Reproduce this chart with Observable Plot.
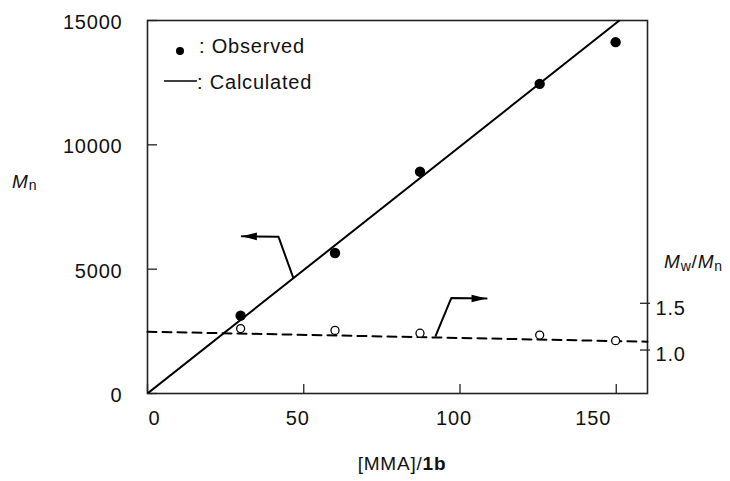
<!DOCTYPE html>
<html><head><meta charset="utf-8">
<script src="https://cdn.jsdelivr.net/npm/d3@7"></script>
<script src="https://cdn.jsdelivr.net/npm/@observablehq/plot@0.6"></script>
<style>
body{margin:0;background:#fff;}
svg text{font-family:"Liberation Sans",Arial,sans-serif;letter-spacing:0.8px;}
</style></head><body><div id="chart"></div>
<script>
// ---- data ----
const mmaRatio = [29.8, 60.0, 87.2, 125.5, 149.8];
const mnObserved = [3130, 5650, 8920, 12450, 14130];
const mwmnObserved = [1.23, 1.21, 1.18, 1.16, 1.10];
const calcRatio = [0, 151];
const calcMn = [0, 15000];
const mwmnFitRatio = [0, 160];
const mwmnFit = [1.196, 1.089];
const xTicks = [0, 50, 100, 150];
const yTicks = [0, 5000, 10000, 15000];
const y2Ticks = [1.0, 1.5];
const arrowLeftX = [46.6, 41.9, 30.2];
const arrowLeftMn = [4669, 6306, 6319];
const arrowRightX = [92.2, 97.2, 108.5];
const arrowRightMn = [2322, 3840, 3823];
const xDomain = [0, 160], yDomain = [0, 15000], y2Domain = [0.535, 4.525];

// ---- helpers ----
const W = 730, H = 481, mL = 147, mR = 83, mT = 20, mB = 88;
const innerW = W - mL - mR, innerH = H - mT - mB;
const r2y = r => yDomain[0] + (r - y2Domain[0]) / (y2Domain[1] - y2Domain[0]) * (yDomain[1] - yDomain[0]);
const y2r = v => y2Domain[0] + (v - yDomain[0]) / (yDomain[1] - yDomain[0]) * (y2Domain[1] - y2Domain[0]);
const obs = mmaRatio.map((x, i) => ({x, mn: mnObserved[i], r: mwmnObserved[i]}));
const calc = calcRatio.map((x, i) => ({x, y: calcMn[i]}));
const fit = mwmnFitRatio.map((x, i) => ({x, r: mwmnFit[i]}));
const arrL = arrowLeftX.map((x, i) => ({x, y: arrowLeftMn[i]}));
const arrR = arrowRightX.map((x, i) => ({x, y: arrowRightMn[i]}));
const headLeft = {draw(c){ c.moveTo(0,0); c.lineTo(15,-3.8); c.lineTo(15,3.8); c.closePath(); }};
const headRight = {draw(c){ c.moveTo(0,0); c.lineTo(-15,-3.8); c.lineTo(-15,3.8); c.closePath(); }};
const xLabelShift = {0: 7, 50: -6, 100: -6, 150: -23};

const plot = Plot.plot({
  width: W, height: H,
  marginLeft: mL, marginRight: mR, marginTop: mT, marginBottom: mB,
  x: {domain: xDomain, axis: null},
  y: {domain: yDomain, axis: null},
  style: {fontFamily: "Liberation Sans, Arial, sans-serif", fontSize: "20px", color: "#111", background: "white", overflow: "visible"},
  marks: [
    Plot.frame({stroke: "#222", strokeWidth: 1.6}),
    // inward tick marks
    Plot.tickX(xTicks, {x: d => d, insetTop: innerH - 9, stroke: "#222", strokeWidth: 1.3}),
    Plot.tickY(yTicks, {y: d => d, insetRight: innerW - 10, stroke: "#222", strokeWidth: 1.3}),
    Plot.tickY(y2Ticks.map(r2y), {y: d => d, insetLeft: innerW - 7, insetRight: -3, stroke: "#222", strokeWidth: 1.3}),
    // tick labels
    ...xTicks.map(v => Plot.axisX([v], {tickSize: 0, tickPadding: 17, dx: xLabelShift[v], fontSize: 20, label: null, tickFormat: d => String(d)})),
    Plot.axisY(yTicks, {tickSize: 0, tickPadding: 25, dy: 2, fontSize: 20, label: null, tickFormat: d => String(d)}),
    Plot.axisY(y2Ticks.map(r2y), {anchor: "right", tickSize: 0, tickPadding: 8, dy: 5, fontSize: 20, label: null,
      tickFormat: d => y2r(d).toFixed(1)}),
    // data
    Plot.line(calc, {x: "x", y: "y", stroke: "black", strokeWidth: 2, clip: true}),
    Plot.line(fit, {x: "x", y: d => r2y(d.r), stroke: "black", strokeWidth: 2, strokeDasharray: "9,6"}),
    Plot.dot(obs, {x: "x", y: "mn", r: 5.2, fill: "black"}),
    Plot.dot(obs, {x: "x", y: d => r2y(d.r), r: 4, stroke: "black", fill: "white", strokeWidth: 1.3}),
    // annotation arrows
    Plot.line(arrL, {x: "x", y: "y", stroke: "black", strokeWidth: 2}),
    Plot.dot([arrL[arrL.length - 1]], {x: "x", y: "y", symbol: headLeft, fill: "black", stroke: "none"}),
    Plot.line(arrR, {x: "x", y: "y", stroke: "black", strokeWidth: 2}),
    Plot.dot([arrR[arrR.length - 1]], {x: "x", y: "y", symbol: headRight, fill: "black", stroke: "none"})
  ]
});
document.getElementById("chart").appendChild(plot);

// ---- titles and legend ----
const svg = d3.select(plot);
const g = svg.append("g").attr("fill", "#111").attr("text-anchor", "start")
  .style("font-family", "Liberation Sans, Arial, sans-serif");
// left axis title
const tl = g.append("text").attr("x", 12).attr("y", 188).attr("font-size", 19);
tl.append("tspan").attr("font-style", "italic").text("M");
tl.append("tspan").attr("font-size", 14).attr("dy", 2).text("n");
// right axis title
const tr = g.append("text").attr("x", 664).attr("y", 268).attr("font-size", 19);
tr.append("tspan").attr("font-style", "italic").text("M");
tr.append("tspan").attr("font-size", 14).attr("dy", 3).text("w");
tr.append("tspan").attr("dy", -3).text("/");
tr.append("tspan").attr("font-style", "italic").text("M");
tr.append("tspan").attr("font-size", 14).attr("dy", 3).text("n");
// x axis title
const tx = g.append("text").attr("x", 402).attr("y", 470).attr("font-size", 19).attr("text-anchor", "middle");
tx.append("tspan").text("[MMA]/");
tx.append("tspan").attr("font-weight", "bold").text("1b");
// legend
g.append("circle").attr("cx", 180).attr("cy", 51).attr("r", 4).attr("fill", "black");
g.append("text").attr("x", 199).attr("y", 53).attr("font-size", 20).text(": Observed");
g.append("line").attr("x1", 164).attr("x2", 197).attr("y1", 81).attr("y2", 81).attr("stroke", "black").attr("stroke-width", 1.4);
g.append("text").attr("x", 197).attr("y", 89).attr("font-size", 20).text(": Calculated");
</script>
</body></html>
